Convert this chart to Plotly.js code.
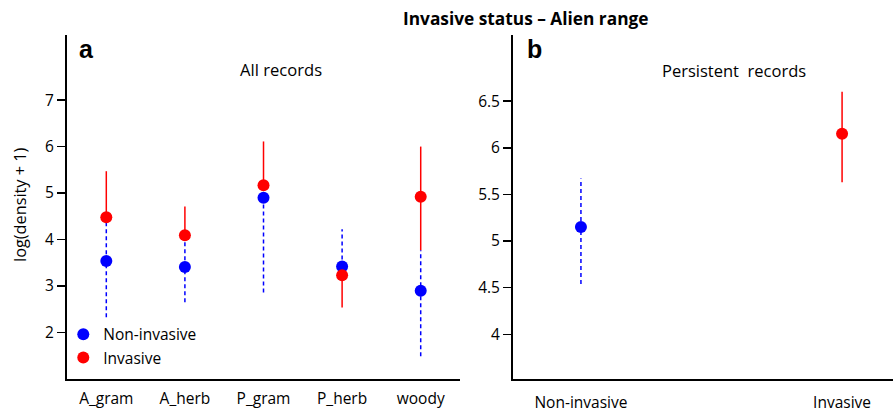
<!DOCTYPE html>
<html>
<head>
<meta charset="utf-8">
<script src="https://cdn.plot.ly/plotly-3.0.1.min.js"></script>
<style>html,body{margin:0;padding:0;background:#fff;}#chart{width:894px;height:412px;}</style>
</head>
<body>
<div id="chart"></div>
<script>
// Panel a: all records
const categoriesA = ['A_gram', 'A_herb', 'P_gram', 'P_herb', 'woody'];
const nonInvMeanA = [3.54, 3.41, 4.90, 3.42, 2.90];
const nonInvLowA  = [2.33, 2.65, 2.86, 3.42, 1.49];
const nonInvHighA = [4.48, 4.09, 4.90, 4.22, 3.77];
const invMeanA    = [4.48, 4.09, 5.17, 3.23, 4.92];
const invLowA     = [4.48, 4.09, 5.17, 2.54, 3.77];
const invHighA    = [5.47, 4.71, 6.11, 3.23, 6.00];

// Panel b: persistent records
const categoriesB = ['Non-invasive', 'Invasive'];
const nonInvMeanB = [5.15];
const nonInvLowB  = [4.54];
const nonInvHighB = [5.67];
const invMeanB    = [6.15];
const invLowB     = [5.63];
const invHighB    = [6.60];

const yTicksA = [2, 3, 4, 5, 6, 7];
const yTicksB = [4, 4.5, 5, 5.5, 6, 6.5];

const BLUE = '#0000FF', RED = '#FF0000';
const FONT = '"Open Sans", Lato, sans-serif';

function segs(xs, lo, hi) {
  const x = [], y = [];
  xs.forEach((c, i) => { x.push(c, c, null); y.push(lo[i], hi[i], null); });
  return {x, y};
}

const traces = [];
const bA = segs(categoriesA, nonInvLowA, nonInvHighA);
traces.push({x: bA.x, y: bA.y, type: 'scatter', mode: 'lines', xaxis: 'x', yaxis: 'y',
  line: {color: BLUE, width: 1.5, dash: '4px,3px'}, showlegend: false, hoverinfo: 'skip'});
const rA = segs(categoriesA, invLowA, invHighA);
traces.push({x: rA.x, y: rA.y, type: 'scatter', mode: 'lines', xaxis: 'x', yaxis: 'y',
  line: {color: RED, width: 1.5}, showlegend: false, hoverinfo: 'skip'});
const bB = segs([categoriesB[0]], nonInvLowB, nonInvHighB);
traces.push({x: bB.x, y: bB.y, type: 'scatter', mode: 'lines', xaxis: 'x2', yaxis: 'y2',
  line: {color: BLUE, width: 1.5, dash: '4px,3px'}, showlegend: false, hoverinfo: 'skip'});
const rB = segs([categoriesB[1]], invLowB, invHighB);
traces.push({x: rB.x, y: rB.y, type: 'scatter', mode: 'lines', xaxis: 'x2', yaxis: 'y2',
  line: {color: RED, width: 1.5}, showlegend: false, hoverinfo: 'skip'});

traces.push({x: categoriesA, y: nonInvMeanA, type: 'scatter', mode: 'markers', name: 'Non-invasive',
  xaxis: 'x', yaxis: 'y', marker: {color: BLUE, size: 12}});
traces.push({x: categoriesA, y: invMeanA, type: 'scatter', mode: 'markers', name: 'Invasive',
  xaxis: 'x', yaxis: 'y', marker: {color: RED, size: 12}});
traces.push({x: [categoriesB[0]], y: nonInvMeanB, type: 'scatter', mode: 'markers', name: 'Non-invasive',
  xaxis: 'x2', yaxis: 'y2', marker: {color: BLUE, size: 12}, showlegend: false});
traces.push({x: [categoriesB[1]], y: invMeanB, type: 'scatter', mode: 'markers', name: 'Invasive',
  xaxis: 'x2', yaxis: 'y2', marker: {color: RED, size: 12}, showlegend: false});

const axCommon = {showgrid: false, zeroline: false, showline: true, linecolor: '#000', linewidth: 2,
  tickfont: {family: FONT, size: 15.5, color: '#000'}, fixedrange: true};

const layout = {
  width: 894, height: 412,
  margin: {l: 67, r: 1, t: 35, b: 33},
  paper_bgcolor: '#fff', plot_bgcolor: '#fff',
  font: {family: FONT, color: '#000'},
  showlegend: true,
  legend: {x: -0.0045, y: 0.178, xanchor: 'left', yanchor: 'top', bgcolor: 'rgba(0,0,0,0)',
    font: {family: FONT, size: 15.5, color: '#000'}, itemwidth: 30, tracegroupgap: 0},
  xaxis: Object.assign({}, axCommon, {domain: [0, 0.4758], type: 'category', range: [-0.5, 4.5],
    ticks: '', categoryarray: categoriesA, categoryorder: 'array', ticklabelstandoff: 4}),
  yaxis: Object.assign({}, axCommon, {range: [1.0, 8.4], tickvals: yTicksA, ticks: 'outside',
    ticklen: 8, tickwidth: 1.5, tickcolor: '#000'}),
  xaxis2: Object.assign({}, axCommon, {domain: [0.54, 1], type: 'category', range: [-0.26, 1.195],
    ticks: '', anchor: 'y2', categoryarray: categoriesB, categoryorder: 'array', ticklabelstandoff: 8}),
  yaxis2: Object.assign({}, axCommon, {range: [3.52, 7.21], tickvals: yTicksB, ticks: 'outside',
    ticklen: 8, tickwidth: 1.5, tickcolor: '#000', anchor: 'x2'}),
  annotations: [
    {text: '<b>Invasive status – Alien range</b>', xref: 'paper', yref: 'paper', x: 0.5545, y: 1.049,
      xanchor: 'center', yanchor: 'middle', showarrow: false, font: {family: FONT, size: 17.3, color: '#000'}},
    {text: '<b>a</b>', xref: 'paper', yref: 'paper', x: 0.0242, y: 0.958, xanchor: 'center', yanchor: 'middle',
      showarrow: false, font: {family: 'Liberation Sans, Arial, sans-serif', size: 25, color: '#000'}},
    {text: '<b>b</b>', xref: 'paper', yref: 'paper', x: 0.5654, y: 0.958, xanchor: 'center', yanchor: 'middle',
      showarrow: false, font: {family: 'Liberation Sans, Arial, sans-serif', size: 25, color: '#000'}},
    {text: 'All records', xref: 'paper', yref: 'paper', x: 0.259, y: 0.901, xanchor: 'center', yanchor: 'middle',
      showarrow: false, font: {family: FONT, size: 16.6, color: '#000'}},
    {text: 'Persistent  records', xref: 'paper', yref: 'paper', x: 0.8075, y: 0.898, xanchor: 'center', yanchor: 'middle',
      showarrow: false, font: {family: FONT, size: 16.5, color: '#000'}},
    {text: 'log(density + 1)', xref: 'paper', yref: 'paper', x: -0.0569, y: 0.506, xanchor: 'center', yanchor: 'middle',
      textangle: -90, showarrow: false, font: {family: FONT, size: 16.3, color: '#000'}}
  ]
};

Plotly.newPlot('chart', traces, layout, {displayModeBar: false, staticPlot: true});
</script>
</body>
</html>
